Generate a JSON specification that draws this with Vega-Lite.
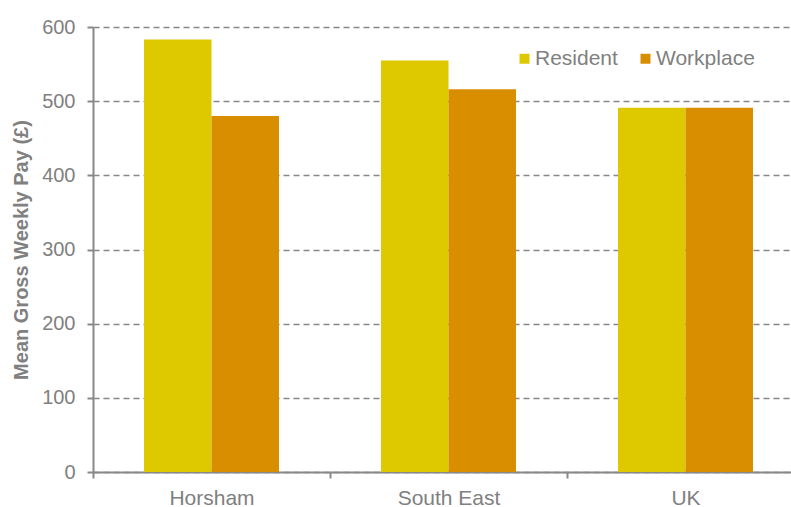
{
  "$schema": "https://vega.github.io/schema/vega-lite/v6.json",
  "width": 711,
  "height": 445,
  "autosize": {"type": "none"},
  "padding": {"left": 93, "top": 27, "right": 0, "bottom": 35},
  "background": "white",
  "data": {
    "values": [
      {"area": "Horsham", "type": "Resident", "pay": 583},
      {"area": "Horsham", "type": "Workplace", "pay": 480},
      {"area": "South East", "type": "Resident", "pay": 555},
      {"area": "South East", "type": "Workplace", "pay": 516},
      {"area": "UK", "type": "Resident", "pay": 491},
      {"area": "UK", "type": "Workplace", "pay": 491}
    ]
  },
  "config": {
    "view": {"stroke": null},
    "font": "Liberation Sans"
  },
  "mark": {"type": "bar"},
  "encoding": {
    "x": {
      "field": "area",
      "type": "nominal",
      "sort": null,
      "scale": {"paddingInner": 0, "paddingOuter": 0},
      "axis": {
        "title": null,
        "labelAngle": 0,
        "labelFont": "Liberation Sans",
        "labelFontSize": 21,
        "labelColor": "#808080",
        "labelPadding": 9,
        "tickBand": "extent",
        "tickSize": 6,
        "tickWidth": 2,
        "tickColor": "#888888",
        "domainColor": "#888888",
        "domainWidth": 2,
        "grid": false
      }
    },
    "xOffset": {
      "field": "type",
      "type": "nominal",
      "scale": {"paddingInner": 0, "paddingOuter": 0.756}
    },
    "y": {
      "field": "pay",
      "type": "quantitative",
      "scale": {"domain": [0, 600]},
      "axis": {
        "title": "Mean Gross Weekly Pay (£)",
        "titleFont": "Liberation Sans",
        "titleFontSize": 20,
        "titleFontWeight": "bold",
        "titleColor": "#808080",
        "titlePadding": 10,
        "values": [0, 100, 200, 300, 400, 500, 600],
        "labelFont": "Liberation Sans",
        "labelFontSize": 20,
        "labelColor": "#808080",
        "labelPadding": 12,
        "tickSize": 6,
        "tickWidth": 2,
        "tickColor": "#888888",
        "domainColor": "#888888",
        "domainWidth": 2,
        "grid": true,
        "gridColor": "#888888",
        "gridWidth": 1.5,
        "gridDash": [6, 4]
      }
    },
    "color": {
      "field": "type",
      "type": "nominal",
      "scale": {"domain": ["Resident", "Workplace"], "range": ["#DEC800", "#D98E00"]},
      "legend": {
        "title": null,
        "orient": "none",
        "direction": "horizontal",
        "legendX": 421,
        "legendY": 21,
        "symbolType": "square",
        "symbolSize": 100,
        "symbolStrokeWidth": 0,
        "labelFont": "Liberation Sans",
        "labelFontSize": 21,
        "labelColor": "#808080",
        "labelOffset": 0,
        "columnPadding": 17
      }
    }
  }
}
